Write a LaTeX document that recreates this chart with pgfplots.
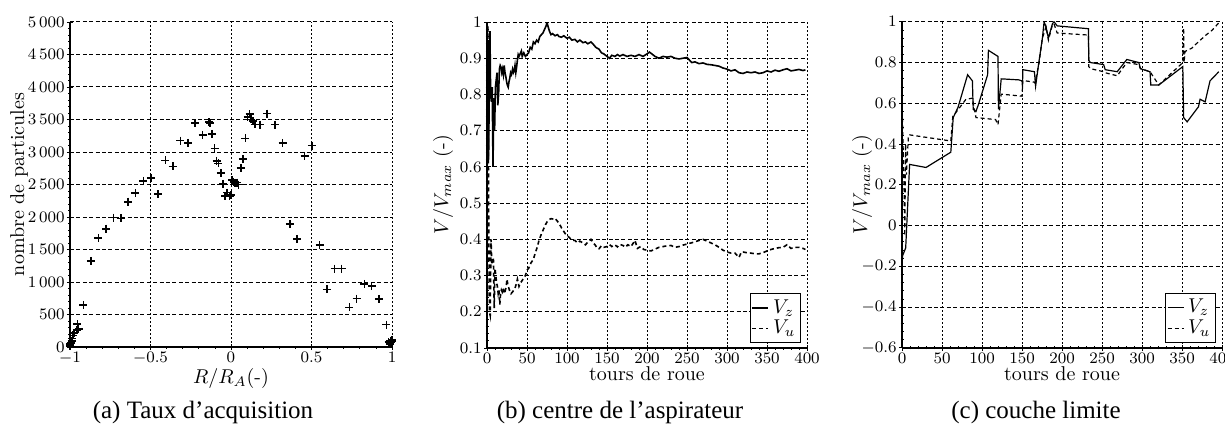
\documentclass[border=0pt]{standalone}
\usepackage{pgfplots}
\pgfplotsset{compat=1.18}
\usepackage{fontspec}
\newfontfamily\capfont{Liberation Serif}
\pgfplotsset{
  base/.style={
    scale only axis, anchor=south west,
    axis lines*=left,
    axis line style={thick, -},
    grid=major,
    x grid style={black, line width=0.5pt, dash pattern=on 1pt off 1pt},
    y grid style={black, line width=0.5pt, dash pattern=on 2pt off 1.2pt},
    tick label style={font=\footnotesize, inner sep=1pt},
    tick align=center,
    major tick length=3pt, minor tick length=1.5pt,
    minor x tick num=4, minor y tick num=4,
    every tick/.style={black, thin},
    label style={font=\normalsize},
  },
  leg/.style={
    legend style={at={(0.982,0.016)}, anchor=south east, draw=black, thin,
      font=\normalsize, inner sep=0.8pt, row sep=-2pt, fill=white},
    legend cell align=left,
    legend image code/.code={\draw[#1] (0pt,0pt) -- (8pt,0pt);},
  },
}
\begin{document}
\begin{tikzpicture}
\path[use as bounding box] (0,0) rectangle (612.5pt,211.5pt);

% ---------------- (a)
\begin{axis}[base, at={(35pt,38pt)}, width=161pt, height=162.5pt,
  xmin=-1, xmax=1, ymin=0, ymax=5000,
  xtick={-1,-0.5,0,0.5,1},
  ytick={0,500,...,5000},
  scaled y ticks=false,
  y tick label style={/pgf/number format/.cd, 1000 sep={\,}},
  clip=false,
  xlabel={$R/R_A$(-)}, ylabel={nombre de particules},
  xlabel style={at={(axis description cs:0.5,-0.111)}, anchor=base},
  ylabel style={at={(axis description cs:-0.158,0.5)}, anchor=center},
]
\addplot[only marks, mark=+, mark size=2pt, black, thick] coordinates {
(-1,30) (-0.995,60) (-1,15) (-0.99,90) (-0.985,130) (-0.997,45)
(-0.983,180) (-0.975,215) (-0.954,350) (-0.958,265) (-0.946,280)
(-0.917,650) (-0.871,1325) (-0.824,1680) (-0.776,1820) (-0.731,1990)
(-0.685,1980) (-0.639,2235) (-0.594,2365) (-0.544,2555) (-0.498,2600)
(-0.453,2350) (-0.407,2870) (-0.362,2780) (-0.314,3175) (-0.268,3140)
(-0.223,3445) (-0.177,3265) (-0.132,3445) (-0.135,3460) (-0.117,3280)
(-0.102,3055) (-0.090,2865) (-0.078,2825) (-0.063,2675) (-0.049,2510)
(-0.036,2320) (-0.024,2375) (-0.009,2320) (0,2335) (0.007,2565)
(0.016,2540) (0.026,2525) (0.036,2530) (0.047,2500) (0.061,2750)
(0.074,2890) (0.090,3210) (0.103,3540) (0.115,3580) (0.123,3500)
(0.135,3475) (0.148,3425) (0.181,3420) (0.225,3590) (0.272,3420)
(0.320,3140) (0.366,1890) (0.411,1665) (0.457,2935) (0.502,3100)
(0.550,1565) (0.596,885) (0.644,1205) (0.687,1205) (0.735,610)
(0.780,745) (0.828,970) (0.873,940) (0.919,740) (0.965,345)
(0.979,75) (0.99,100) (1,110) (0.985,50) (0.995,70) (1,85)
};
\end{axis}

% ---------------- (b)
\begin{axis}[base, leg, at={(243.5pt,37.5pt)}, width=160pt, height=163pt,
  xmin=0, xmax=400, ymin=0.1, ymax=1,
  xtick={0,50,...,400},
  ytick={0.1,0.2,0.3,0.4,0.5,0.6,0.7,0.8,0.9,1},
  xlabel={tours de roue}, ylabel={$V/V_{max}$ (-)},
  xlabel style={at={(axis description cs:0.5,-0.1)}, anchor=base},
  ylabel style={at={(axis description cs:-0.1375,0.5)}, anchor=center},
]
\addplot[black, thick] coordinates {
(0,0.12) (0.3,0.99) (0.8,0.7) (1.3,0.95) (2,0.62) (3,0.85) (3.7,0.975)
(4.5,0.8) (5.5,0.78) (6.5,0.82) (7.5,0.6) (8.5,0.79) (9.5,0.7) (10.5,0.82)
(11.5,0.84) (12.5,0.86) (13.5,0.77) (14.5,0.8) (15.5,0.87) (16.5,0.88)
(17.5,0.875) (18.5,0.86) (19.5,0.87) (20.5,0.855) (21.5,0.88) (22.5,0.86)
(23.5,0.85) (24.5,0.835) (25.5,0.825) (26.5,0.82) (27.5,0.835) (28.5,0.845)
(29.5,0.86) (30.5,0.855) (32,0.87) (33,0.86) (34,0.865) (35,0.88) (36,0.86)
(37,0.875) (38,0.895) (39,0.91) (40,0.905) (42,0.915) (43,0.92) (44,0.905)
(46,0.915) (48,0.905) (50,0.91) (52,0.915) (54,0.93) (56,0.925) (58,0.945)
(60,0.94) (62,0.95) (64,0.945) (66,0.96) (68,0.965) (70,0.97) (72,0.98)
(74,0.99) (75,1.0) (76,0.99) (78,0.975) (80,0.965) (82,0.968) (85,0.962)
(88,0.965) (90,0.96) (93,0.958) (96,0.962) (100,0.955) (103,0.958) (106,0.95)
(110,0.952) (113,0.945) (116,0.95) (120,0.943) (123,0.945) (126,0.94)
(130,0.945) (133,0.938) (136,0.93) (140,0.925) (143,0.915) (146,0.912)
(150,0.905) (153,0.9) (156,0.908) (160,0.905) (163,0.91) (166,0.906)
(170,0.91) (175,0.905) (180,0.908) (185,0.905) (190,0.91) (195,0.905)
(200,0.912) (203,0.917) (206,0.912) (210,0.905) (215,0.9) (220,0.905)
(225,0.903) (230,0.905) (235,0.9) (240,0.898) (245,0.9) (250,0.902)
(253,0.895) (256,0.888) (260,0.89) (265,0.885) (270,0.887) (275,0.883)
(280,0.882) (285,0.88) (290,0.878) (295,0.873) (300,0.87) (305,0.865)
(310,0.868) (315,0.86) (320,0.858) (325,0.862) (330,0.86) (335,0.862)
(340,0.858) (345,0.86) (350,0.865) (355,0.862) (360,0.867) (365,0.864)
(370,0.868) (375,0.871) (380,0.865) (385,0.867) (390,0.869) (395,0.866)
(398,0.868)
};
\addlegendentry{$V_z$}
\addplot[black, thick, dash pattern=on 2pt off 1.5pt] coordinates {
(0,0.2) (1,0.99) (2,0.5) (3,0.2) (4,0.19) (5,0.4) (6,0.33) (7,0.34)
(8,0.35) (9,0.21) (10,0.32) (11,0.3) (12,0.28) (13,0.27) (14,0.25) (15,0.26)
(16,0.22) (17,0.25) (18,0.26) (19,0.255) (20,0.265) (22,0.25) (24,0.27)
(25,0.29) (26,0.275) (28,0.26) (30,0.25) (32,0.255) (35,0.265) (37,0.28)
(38,0.29) (40,0.27) (42,0.28) (45,0.29) (48,0.3) (50,0.315) (52,0.32)
(55,0.335) (58,0.345) (60,0.36) (63,0.38) (65,0.397) (68,0.415) (70,0.425)
(73,0.44) (75,0.448) (78,0.455) (80,0.457) (83,0.456) (85,0.458) (88,0.45)
(90,0.445) (93,0.432) (95,0.425) (98,0.415) (100,0.41) (103,0.405)
(106,0.398) (110,0.397) (113,0.39) (116,0.395) (120,0.39) (123,0.385)
(126,0.392) (130,0.4) (133,0.39) (135,0.385) (138,0.375) (140,0.374)
(143,0.382) (146,0.378) (150,0.38) (153,0.386) (156,0.38) (160,0.385)
(163,0.379) (166,0.386) (170,0.383) (173,0.378) (176,0.385) (180,0.38)
(185,0.397) (188,0.375) (192,0.38) (196,0.372) (200,0.37) (205,0.368)
(210,0.373) (215,0.378) (220,0.38) (225,0.382) (230,0.383) (235,0.378)
(240,0.38) (245,0.384) (250,0.387) (255,0.39) (260,0.393) (265,0.397)
(270,0.4) (275,0.395) (280,0.39) (285,0.385) (290,0.378) (295,0.37)
(300,0.365) (305,0.362) (310,0.362) (315,0.35) (318,0.365) (320,0.365)
(325,0.363) (330,0.362) (335,0.36) (340,0.36) (345,0.363) (350,0.368)
(355,0.372) (360,0.375) (365,0.377) (370,0.378) (375,0.385) (380,0.375)
(385,0.378) (390,0.378) (395,0.375) (398,0.372)
};
\addlegendentry{$V_u$}
\end{axis}

% ---------------- (c)
\begin{axis}[base, leg, at={(451pt,37.6pt)}, width=160pt, height=163pt,
  xmin=0, xmax=400, ymin=-0.6, ymax=1,
  xtick={0,50,...,400},
  ytick={-0.6,-0.4,-0.2,0,0.2,0.4,0.6,0.8,1},
  xlabel={tours de roue}, ylabel={$V/V_{max}$ (-)},
  xlabel style={at={(axis description cs:0.5,-0.1)}, anchor=base},
  ylabel style={at={(axis description cs:-0.125,0.5)}, anchor=center},
]
\addplot[black, semithick] coordinates {
(0,-0.55) (0.5,-0.15) (4.6,-0.11) (9.5,0.3) (30,0.285) (61,0.36) (64,0.53)
(70,0.58) (82,0.74) (88,0.71) (89,0.57) (92.5,0.56) (96,0.6) (107,0.74)
(108,0.86) (120,0.83) (120.5,0.57) (124,0.72) (146,0.715) (150,0.71)
(150.6,0.68) (151,0.765) (165.5,0.755) (167,0.684) (171,0.8) (175.5,0.92)
(177.6,1.0) (180,0.975) (183,0.92) (188,0.99) (190,1.0) (194,0.98)
(233,0.966) (233.5,0.81) (235.6,0.80) (252,0.79) (254,0.765) (269,0.755)
(281,0.815) (296,0.80) (298,0.77) (310,0.755) (311,0.69) (321,0.69)
(351,0.78) (352,0.53) (356.4,0.509) (370.6,0.583) (372.6,0.62) (378.9,0.607)
(385,0.71) (396,0.755)
};
\addlegendentry{$V_z$}
\addplot[black, semithick, dash pattern=on 2pt off 1.5pt] coordinates {
(0,0.63) (1,0.45) (2.5,0.2) (3.5,-0.05) (4.5,0.4) (5.5,0.25) (8,0.44)
(9.5,0.445) (61,0.415) (63.5,0.535) (80,0.62) (88,0.625) (90,0.58)
(92.5,0.53) (117,0.52) (120,0.495) (124,0.645) (150,0.635) (151,0.712)
(165,0.704) (166,0.7) (171,0.79) (175.5,0.92) (180,0.975) (183,0.91)
(188,0.985) (190,0.99) (194,0.945) (233,0.935) (233.5,0.78) (235.6,0.77)
(252,0.755) (254,0.75) (269,0.735) (281,0.80) (296,0.79) (298,0.77)
(310,0.755) (321,0.69) (351,0.80) (352,0.97) (352.5,0.80) (354,0.855)
(362,0.87) (370,0.9) (380,0.935) (388,0.96) (396,0.995)
};
\addlegendentry{$V_u$}
\end{axis}

\node[anchor=base, font=\capfont\fontsize{12.5}{14}\selectfont] at (101.5pt,2.5pt) {(a) Taux d’acquisition};
\node[anchor=base, font=\capfont\fontsize{12.5}{14}\selectfont] at (310pt,2.5pt) {(b) centre de l’aspirateur};
\node[anchor=base, font=\capfont\fontsize{12.5}{14}\selectfont] at (518pt,2.5pt) {(c) couche limite};
\end{tikzpicture}
\end{document}
